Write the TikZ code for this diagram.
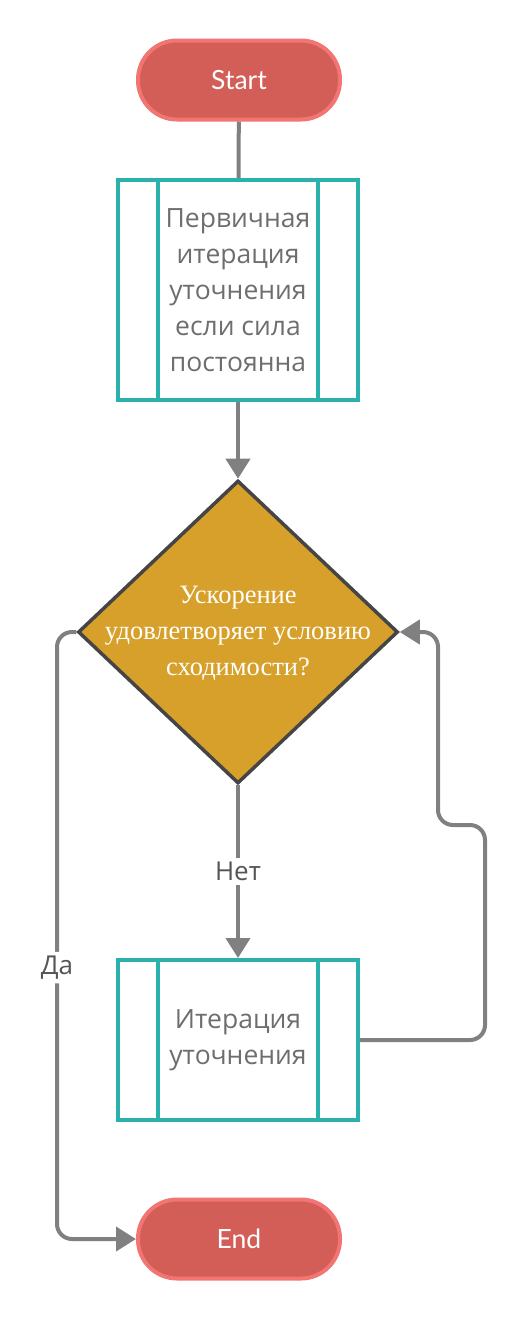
\documentclass[tikz,border=0pt]{standalone}
\usepackage{fontspec}
\setmainfont{Open Sans}
\newfontfamily\latofont{Lato}
\newfontfamily\timesfont{Liberation Serif}
\usetikzlibrary{shapes.geometric, arrows.meta}

\definecolor{termfill}{HTML}{D35D57}
\definecolor{termline}{HTML}{F27573}
\definecolor{procline}{HTML}{2BB1AC}
\definecolor{condfill}{HTML}{D7A02A}
\definecolor{condline}{HTML}{454545}
\definecolor{wirecol}{HTML}{808080}
\definecolor{boxtext}{HTML}{6E6E6E}
\definecolor{labtext}{HTML}{555555}

\begin{document}
\begin{tikzpicture}[x=1pt, y=-1pt,
    term/.style={rectangle, rounded corners=39pt, draw=termline, fill=termfill, line width=4pt,
        minimum width=202pt, minimum height=79pt, text=white, font=\latofont\fontsize{26.5}{30}\selectfont},
    proc/.style={rectangle, draw=procline, line width=4pt, minimum width=240pt,
        text=boxtext, align=center, font=\fontsize{26.5}{36}\selectfont},
    side/.style={draw=procline, line width=4pt},
    cond/.style={diamond, draw=condline, fill=condfill, line width=3.5pt,
        minimum width=320pt, minimum height=303pt, inner sep=0pt},
    condtext/.style={text=white, align=center, font=\timesfont\fontsize{26.5}{36}\selectfont},
    wire/.style={draw=wirecol, line width=4pt},
    arr/.style={wire, -{Triangle[length=20pt, width=24pt]}},
    lab/.style={fill=white, text=labtext, inner sep=4pt, font=\fontsize{26}{30}\selectfont}]

    \useasboundingbox (0,0) rectangle (525,1320);

    \node[term] (start) at (239,80) {Start};
    \node[proc, minimum height=220pt] (init) at (238,290) {Первичная\\итерация\\уточнения\\если сила\\постоянна};
    \node[cond] (check) at (238,632) {};
    \node[condtext] (checktext) at (238,633) {Ускорение\\удовлетворяет условию\\сходимости?};
    \node[proc, minimum height=160pt] (iter) at (238,1040) {Итерация\\уточнения};
    \node[term] (end) at (239,1239) {End};

    % side bars of the process boxes
    \foreach \n in {init, iter} {
        \draw[side] ([xshift=42pt, yshift=-2pt]\n.north west) -- ([xshift=42pt, yshift=2pt]\n.south west);
        \draw[side] ([xshift=-42pt, yshift=-2pt]\n.north east) -- ([xshift=-42pt, yshift=2pt]\n.south east);
    }

    \draw[wire] (start) -- (init);
    \draw[arr] (init) -- (check);
    \draw[arr] (check) -- node[lab] {Нет} (iter);

    % loop back
    \coordinate (loopa) at (485,825);
    \coordinate (loopb) at (438,632);
    \draw[arr, rounded corners=15pt] (iter.east) -| (loopa) -| (loopb) -- (check.east);

    % exit
    \coordinate (exita) at (57,632);
    \coordinate (exitb) at (57,1239);
    \draw[arr, rounded corners=15pt] (check.west) -- (exita) -- node[lab, pos=0.553] {Да} (exitb) -- (end.west);
\end{tikzpicture}
\end{document}
